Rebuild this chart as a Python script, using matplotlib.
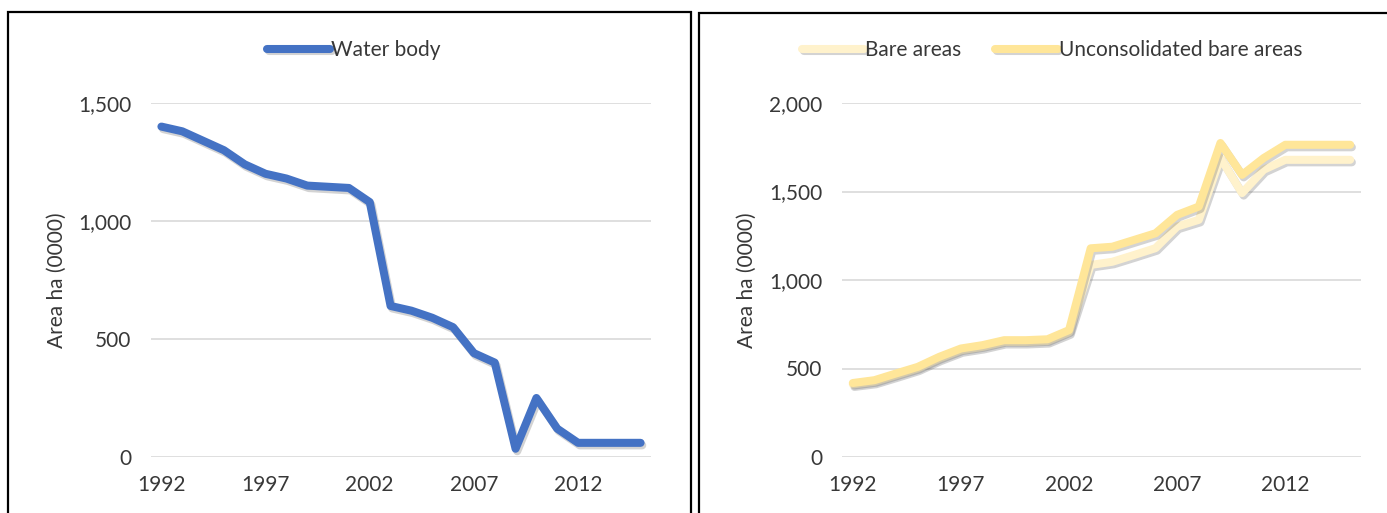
import matplotlib
matplotlib.use("Agg")
import matplotlib.pyplot as plt
import matplotlib.patheffects as pe
from matplotlib.patches import Rectangle
from matplotlib.ticker import FuncFormatter, FixedLocator

# ---- data -------------------------------------------------------------
years = list(range(1992, 2016))

water_body = [1400, 1380, 1340, 1300, 1240, 1200, 1180, 1150, 1145, 1140,
              1080, 640, 620, 590, 550, 440, 400, 35, 250, 120,
              60, 60, 60, 60]

bare_areas = [410, 425, 462, 500, 556, 603, 622, 650, 650, 655,
              705, 1085, 1103, 1141, 1180, 1302, 1340, 1689, 1491, 1623,
              1679, 1679, 1679, 1679]

unconsolidated_bare = [418, 434, 472, 509, 566, 613, 632, 660, 660, 665,
                       717, 1179, 1188, 1226, 1264, 1368, 1415, 1774, 1594, 1689,
                       1764, 1764, 1764, 1764]

x_labels = [1992, 1997, 2002, 2007, 2012]
left_yticks = [0, 500, 1000, 1500]
right_yticks = [0, 500, 1000, 1500, 2000]

# ---- style ------------------------------------------------------------
plt.rcParams["font.family"] = ["Lato", "DejaVu Sans"]
TEXT = "#383838"
GRID = "#d9d9d9"
FS = 15

W, H = 1387, 513
fig = plt.figure(figsize=(W / 100, H / 100), dpi=100)


def px_axes(x0, y0, x1, y1):
    return fig.add_axes([x0 / W, 1 - y1 / H, (x1 - x0) / W, (y1 - y0) / H])


shadow = [pe.SimpleLineShadow(offset=(1.2, -1.8), shadow_color="#505050", alpha=0.25),
          pe.Normal()]


def style_axes(ax, yticks):
    ax.set_xlim(years[0] - 0.5, years[-1] + 0.5)
    ax.set_ylim(yticks[0], yticks[-1])
    ax.xaxis.set_major_locator(FixedLocator(x_labels))
    ax.yaxis.set_major_locator(FixedLocator(yticks))
    ax.yaxis.set_major_formatter(FuncFormatter(lambda v, p: f"{v:,.0f}"))
    for s in ax.spines.values():
        s.set_visible(False)
    ax.grid(axis="y", color=GRID, lw=1.2)
    ax.set_axisbelow(True)
    ax.tick_params(axis="both", length=0, labelsize=FS, labelcolor=TEXT)
    ax.tick_params(axis="y", pad=14)
    ax.tick_params(axis="x", pad=13)
    ax.set_ylabel("Area ha (0000)", fontsize=FS, color=TEXT)


line_kw = dict(lw=5.8, solid_capstyle="round", solid_joinstyle="round",
               path_effects=shadow)

# ---- left panel: water body -------------------------------------------
ax1 = px_axes(151, 103, 651, 457)
style_axes(ax1, left_yticks)
ax1.plot(years, water_body, color="#4472c4", label="Water body", **line_kw)
ax1.yaxis.set_label_coords(-0.168, 0.5)
fig.legend(*ax1.get_legend_handles_labels(), loc="center",
           bbox_to_anchor=(354 / W, 1 - 50 / H), frameon=False, fontsize=FS,
           handlelength=3.0, handletextpad=0.05, labelcolor=TEXT)

# ---- right panel: bare areas ------------------------------------------
ax2 = px_axes(842, 103, 1361, 457)
style_axes(ax2, right_yticks)
ax2.plot(years, bare_areas, color="#fff2cc", label="Bare areas", **line_kw)
ax2.plot(years, unconsolidated_bare, color="#ffe699",
         label="Unconsolidated bare areas", **line_kw)
ax2.yaxis.set_label_coords(-0.164, 0.5)
fig.legend(*ax2.get_legend_handles_labels(), loc="center", ncol=2,
           bbox_to_anchor=(1052 / W, 1 - 50 / H), frameon=False, fontsize=FS,
           handlelength=3.0, handletextpad=0.05, columnspacing=1.6,
           labelcolor=TEXT)

# ---- panel frames -----------------------------------------------------
for (x0, y0, x1) in [(8, 12, 691), (699, 13, 1400)]:
    fig.patches.append(Rectangle((x0 / W, -0.05), (x1 - x0) / W, 1.05 - y0 / H,
                                 transform=fig.transFigure, fill=False,
                                 ec="black", lw=1.6))

fig.savefig("out.png", dpi=100)
